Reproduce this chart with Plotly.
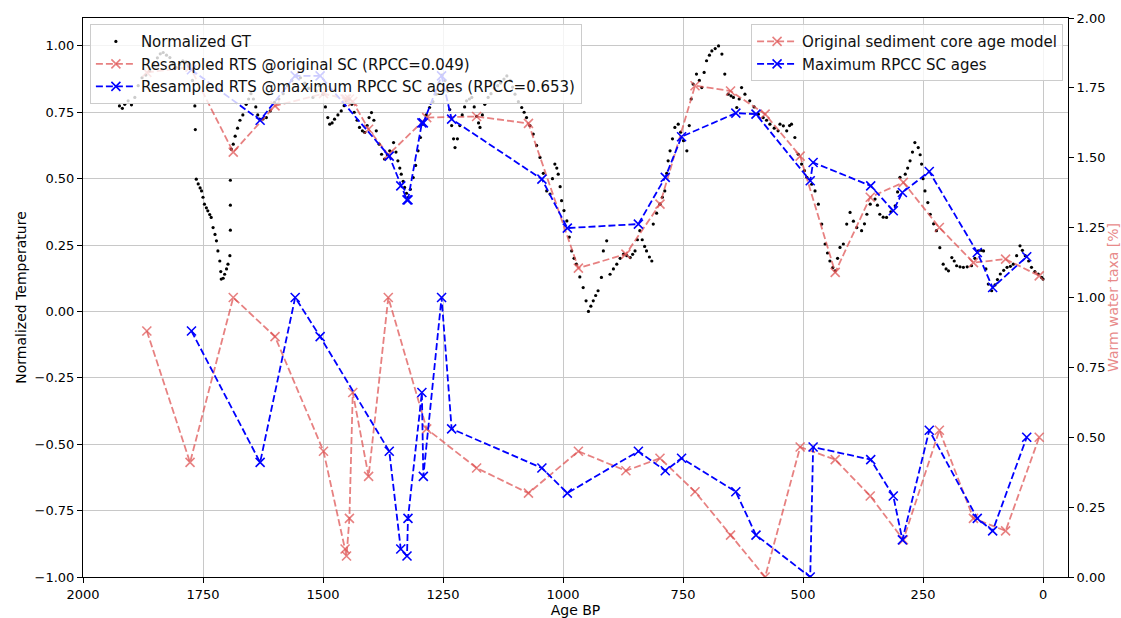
import plotly.graph_objects as go

# ---------------- data ----------------
gt_age = [1924, 1918, 1913, 1906, 1899, 1892, 1885, 1877, 1869, 1861, 1853, 1845, 1839, 1833, 1826,
          1819, 1812, 1806, 1799, 1792, 1785, 1778, 1772, 1767, 1766, 1764, 1760, 1756, 1753, 1750,
          1747, 1743, 1740, 1736, 1733, 1729, 1725, 1722, 1719, 1715, 1713, 1712, 1708, 1705, 1701,
          1698, 1694, 1693, 1693, 1693, 1691, 1687, 1683, 1678, 1673, 1667, 1660, 1655, 1650, 1645,
          1640, 1636, 1632, 1625, 1618, 1610, 1601, 1592, 1583, 1574, 1565, 1556, 1547, 1538, 1530,
          1521, 1514, 1507, 1500, 1495, 1490, 1486, 1481, 1476, 1469, 1462, 1456, 1451, 1445, 1440,
          1435, 1429, 1424, 1418, 1413, 1408, 1404, 1399, 1394, 1389, 1383, 1378, 1372, 1366, 1361,
          1353, 1348, 1344, 1340, 1337, 1333, 1330, 1326, 1323, 1318, 1312, 1307, 1302, 1297, 1292,
          1285, 1278, 1271, 1264, 1258, 1252, 1246, 1240, 1236, 1232, 1228, 1225, 1220, 1215, 1210,
          1205, 1201, 1195, 1190, 1185, 1180, 1176, 1173, 1168, 1163, 1156, 1150, 1143, 1136, 1130,
          1123, 1117, 1110, 1105, 1100, 1093, 1086, 1081, 1076, 1069, 1062, 1055, 1048, 1041, 1034,
          1027, 1022, 1017, 1013, 1010, 1006, 1003, 998, 992, 987, 982, 977, 972, 965, 958,
          952, 947, 942, 937, 932, 927, 920, 916, 909, 902, 895, 888, 881, 874, 867,
          860, 855, 850, 845, 840, 835, 830, 826, 820, 815, 812, 805, 798, 793, 788,
          784, 781, 777, 772, 767, 760, 755, 749, 742, 737, 733, 729, 722, 716, 711,
          706, 701, 695, 690, 683, 676, 669, 663, 656, 650, 645, 638, 633, 628, 621,
          611, 602, 593, 583, 576, 569, 560, 552, 548, 541, 534, 528, 524, 517, 510,
          503, 497, 492, 482, 475, 468, 461, 454, 449, 444, 438, 433, 428, 423, 416,
          409, 402, 395, 388, 378, 372, 367, 360, 350, 345, 340, 333, 326, 317, 308,
          303, 298, 287, 282, 277, 272, 267, 260, 256, 253, 250, 246, 240, 235, 228,
          222, 215, 208, 202, 197, 190, 185, 180, 173, 166, 158, 149, 142, 135, 129,
          124, 119, 114, 107, 100, 95, 89, 82, 75, 68, 62, 55, 48, 43, 37,
          30, 24, 17, 10, 3, 0]
gt_val = [0.774, 0.765, 0.78, 0.793, 0.778, 0.806, 0.85, 0.88, 0.89, 0.906, 0.93, 0.955, 0.97, 0.975, 0.965,
          0.956, 0.935, 0.919, 0.93, 0.944, 0.94, 0.931, 0.87, 0.774, 0.685, 0.498, 0.48, 0.465, 0.454, 0.43,
          0.404, 0.39, 0.379, 0.365, 0.354, 0.316, 0.29, 0.266, 0.228, 0.19, 0.15, 0.122, 0.125, 0.14, 0.16,
          0.178, 0.21, 0.306, 0.40, 0.494, 0.611, 0.63, 0.66, 0.69, 0.72, 0.74, 0.78, 0.80, 0.82, 0.80,
          0.77, 0.74, 0.724, 0.725, 0.73, 0.755, 0.787, 0.80, 0.82, 0.85, 0.87, 0.887, 0.88, 0.86, 0.84,
          0.806, 0.83, 0.85, 0.818, 0.77, 0.73, 0.705, 0.71, 0.724, 0.74, 0.755, 0.775, 0.793, 0.80, 0.78,
          0.75, 0.72, 0.693, 0.68, 0.674, 0.70, 0.73, 0.749, 0.72, 0.68, 0.63, 0.592, 0.574, 0.59, 0.605,
          0.636, 0.60, 0.567, 0.54, 0.517, 0.49, 0.467, 0.445, 0.429, 0.46, 0.504, 0.55, 0.605, 0.655, 0.705,
          0.74, 0.768, 0.79, 0.818, 0.86, 0.89, 0.87, 0.83, 0.76, 0.70, 0.65, 0.617, 0.65, 0.70, 0.74,
          0.77, 0.793, 0.80, 0.806, 0.77, 0.735, 0.71, 0.693, 0.74, 0.78, 0.806, 0.82, 0.84, 0.85, 0.86,
          0.875, 0.887, 0.87, 0.845, 0.818, 0.79, 0.768, 0.75, 0.73, 0.70, 0.668, 0.625, 0.58, 0.52, 0.454,
          0.442, 0.50, 0.555, 0.54, 0.517, 0.47, 0.417, 0.38, 0.341, 0.28, 0.228, 0.20, 0.178, 0.13, 0.09,
          0.04, 0.0, 0.02, 0.04, 0.06, 0.078, 0.128, 0.228, 0.266, 0.14, 0.16, 0.178, 0.20, 0.216, 0.21,
          0.203, 0.215, 0.228, 0.27, 0.304, 0.27, 0.245, 0.228, 0.205, 0.19, 0.329, 0.37, 0.404, 0.43, 0.454,
          0.52, 0.567, 0.605, 0.65, 0.693, 0.705, 0.675, 0.643, 0.605, 0.70, 0.80, 0.856, 0.894, 0.87, 0.843,
          0.90, 0.944, 0.965, 0.981, 0.99, 1.0, 0.969, 0.894, 0.818, 0.812, 0.806, 0.768, 0.80, 0.843, 0.818,
          0.793, 0.77, 0.743, 0.73, 0.72, 0.705, 0.69, 0.68, 0.705, 0.699, 0.68, 0.70, 0.705, 0.655, 0.592,
          0.555, 0.53, 0.505, 0.479, 0.454, 0.404, 0.329, 0.254, 0.22, 0.19, 0.165, 0.153, 0.20, 0.241, 0.254,
          0.329, 0.373, 0.34, 0.316, 0.304, 0.33, 0.366, 0.404, 0.423, 0.40, 0.366, 0.355, 0.354, 0.375, 0.398,
          0.45, 0.505, 0.517, 0.54, 0.567, 0.60, 0.636, 0.617, 0.59, 0.555, 0.50, 0.454, 0.41, 0.366, 0.33,
          0.304, 0.24, 0.178, 0.16, 0.153, 0.203, 0.19, 0.172, 0.168, 0.166, 0.168, 0.172, 0.20, 0.228, 0.23,
          0.228, 0.16, 0.103, 0.078, 0.10, 0.12, 0.141, 0.155, 0.166, 0.17, 0.178, 0.21, 0.247, 0.23, 0.21,
          0.19, 0.166, 0.15, 0.141, 0.128, 0.122]

# original sediment core ages and max-RPCC sediment core ages
orig_sc_age = [1867, 1777, 1687, 1600, 1499, 1454, 1451, 1445, 1438, 1405, 1364, 1284, 1180, 1072,
               968, 869, 798, 725, 651, 579, 506, 433, 360, 291, 216, 145, 78, 8]
max_sc_age = [1774, 1631, 1558, 1506, 1362, 1338, 1325, 1323, 1294, 1291, 1253, 1232, 1044, 991,
              843, 787, 753, 640, 598, 485, 479, 359, 312, 293, 237, 137, 105, 34]

# warm water taxa [%] (same samples, plotted at both age models)
warm_taxa = [0.88, 0.41, 1.00, 0.86, 0.45, 0.10, 0.075, 0.21, 0.66, 0.36, 1.00, 0.53, 0.39, 0.30,
             0.45, 0.38, 0.425, 0.305, 0.15, 0.0, 0.465, 0.42, 0.29, 0.133, 0.525, 0.21, 0.165, 0.50]

# resampled reconstructed time series (RTS)
rts_orig = [0.90, 0.92, 0.60, 0.774, 0.82, 0.80, 0.80, 0.80, 0.79, 0.686, 0.59, 0.73, 0.734, 0.708,
            0.163, 0.216, 0.404, 0.85, 0.83, 0.743, 0.585, 0.147, 0.43, 0.486, 0.316, 0.184, 0.197, 0.134]
rts_max = [0.91, 0.72, 0.887, 0.887, 0.585, 0.473, 0.42, 0.42, 0.71, 0.71, 0.887, 0.724, 0.498, 0.314,
           0.329, 0.505, 0.658, 0.747, 0.743, 0.492, 0.561, 0.473, 0.379, 0.448, 0.527, 0.222, 0.09, 0.206]

x_ticks = [2000, 1750, 1500, 1250, 1000, 750, 500, 250, 0]

RED = "rgba(222,80,80,0.72)"
BLUE = "#0000ff"
FONT = "DejaVu Sans"

def dashed(x, y, color, name, yaxis, legend):
    return go.Scatter(
        x=x, y=y, name=name, yaxis=yaxis, legend=legend, mode="lines+markers",
        line=dict(color=color, width=1.8, dash="7px,3px"),
        marker=dict(symbol="x-thin", size=9, color=color, line=dict(width=1.6, color=color)),
    )

fig = go.Figure()
fig.add_trace(go.Scatter(x=gt_age, y=gt_val, mode="markers", name="Normalized GT",
                         marker=dict(color="black", size=3.2), legend="legend", yaxis="y"))
fig.add_trace(dashed(orig_sc_age, rts_orig, RED, "Resampled RTS @original SC (RPCC=0.049)", "y", "legend"))
fig.add_trace(dashed(max_sc_age, rts_max, BLUE, "Resampled RTS @maximum RPCC SC ages (RPCC=0.653)", "y", "legend"))
fig.add_trace(dashed(orig_sc_age, warm_taxa, RED, "Original sediment core age model", "y2", "legend2"))
fig.add_trace(dashed(max_sc_age, warm_taxa, BLUE, "Maximum RPCC SC ages", "y2", "legend2"))

legend_style = dict(bgcolor="rgba(255,255,255,0.8)", bordercolor="#cccccc", borderwidth=1,
                    font=dict(family=FONT, size=15, color="#111111"), itemwidth=40,
                    yanchor="top", tracegroupgap=0)

fig.update_layout(
    width=1121, height=618,
    margin=dict(l=83, r=53, t=18, b=41),
    paper_bgcolor="white", plot_bgcolor="white",
    font=dict(family=FONT, size=13, color="black"),
    showlegend=True,
    legend=dict(x=0.007, y=0.989, xanchor="left", **legend_style),
    legend2=dict(x=0.995, y=0.989, xanchor="right", **legend_style),
    xaxis=dict(range=[2000, -52], tickmode="array", tickvals=x_ticks, automargin=False,
               showgrid=True, gridcolor="#c8c8c8", gridwidth=1,
               showline=True, linecolor="black", linewidth=1, mirror=True,
               ticks="outside", ticklen=5, tickcolor="black",
               title=dict(text="Age BP", font=dict(size=14), standoff=2),
               zeroline=False),
    yaxis=dict(range=[-1, 1.105], tickmode="array", automargin=False,
               tickvals=[-1, -0.75, -0.5, -0.25, 0, 0.25, 0.5, 0.75, 1.0], tickformat=".2f",
               showgrid=True, gridcolor="#c8c8c8", gridwidth=1,
               showline=True, linecolor="black", linewidth=1,
               ticks="outside", ticklen=5, tickcolor="black",
               title=dict(text="Normalized Temperature", font=dict(size=14), standoff=4),
               zeroline=False),
    yaxis2=dict(range=[0, 2.0], overlaying="y", side="right", tickmode="array", automargin=False,
                tickvals=[0, 0.25, 0.5, 0.75, 1.0, 1.25, 1.5, 1.75, 2.0], tickformat=".2f",
                showgrid=False, showline=True, linecolor="black", linewidth=1,
                ticks="outside", ticklen=5, tickcolor="black",
                title=dict(text="Warm water taxa [%]", font=dict(size=14, color="#e88a8a"), standoff=6),
                zeroline=False),
)

fig.write_html("out.html")
